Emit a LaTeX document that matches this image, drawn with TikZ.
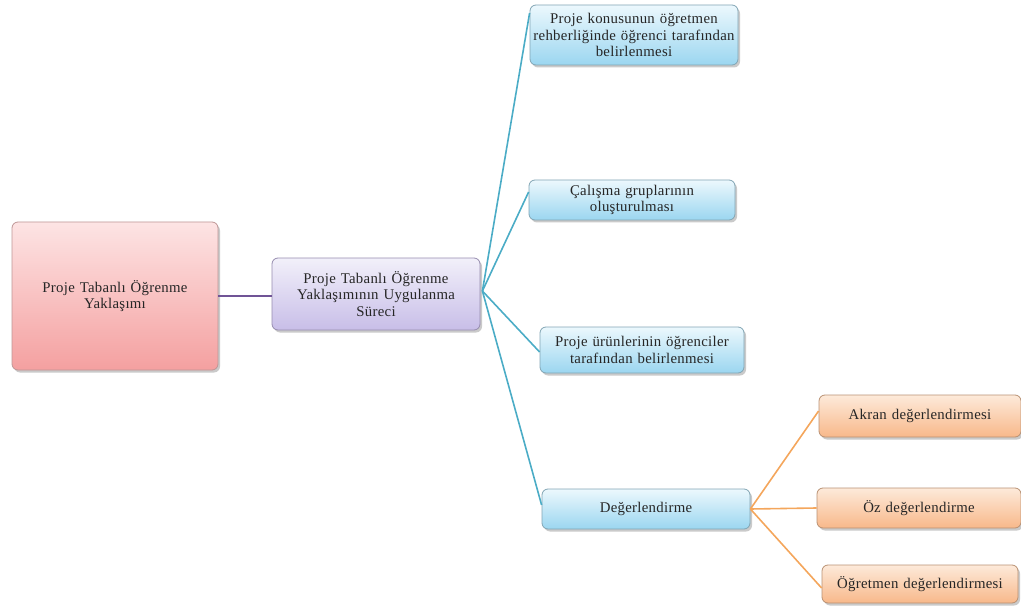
\documentclass[tikz,border=0pt]{standalone}
\usepackage{fontspec}
\setmainfont{Liberation Serif}[LetterSpace=2]
\usetikzlibrary{shadows}
\definecolor{pinktop}{RGB}{253,228,228}
\definecolor{pinkbot}{RGB}{244,160,160}
\definecolor{pinkedge}{RGB}{190,150,150}
\definecolor{lavtop}{RGB}{242,240,250}
\definecolor{lavbot}{RGB}{200,190,232}
\definecolor{lavedge}{RGB}{150,140,175}
\definecolor{bluetop}{RGB}{236,248,253}
\definecolor{bluebot}{RGB}{155,214,240}
\definecolor{blueedge}{RGB}{130,165,180}
\definecolor{orgtop}{RGB}{253,234,218}
\definecolor{orgbot}{RGB}{248,184,138}
\definecolor{orgedge}{RGB}{185,145,115}
\definecolor{tealc}{RGB}{75,172,198}
\definecolor{orgc}{RGB}{244,166,92}
\definecolor{purc}{RGB}{112,84,150}
\begin{document}
\begin{tikzpicture}[x=1pt,y=-1pt,
  box/.style={rounded corners=6pt, line width=0.8pt, align=center, inner sep=2pt,
    font=\fontsize{14.8}{16.5}\selectfont, text=black!85,
    drop shadow={shadow xshift=2pt, shadow yshift=-2.5pt, opacity=0.35, fill=black!60}},
  rootbox/.style={box, draw=pinkedge, top color=pinktop, bottom color=pinkbot},
  midbox/.style={box, draw=lavedge, top color=lavtop, bottom color=lavbot},
  bluebox/.style={box, draw=blueedge, top color=bluetop, bottom color=bluebot},
  orangebox/.style={box, draw=orgedge, top color=orgtop, bottom color=orgbot},
  tealline/.style={draw=tealc, line width=1.6pt},
  orangeline/.style={draw=orgc, line width=1.6pt},
  purpleline/.style={draw=purc, line width=1.6pt}]
\useasboundingbox (0,0) rectangle (1021,607);

% root and process nodes
\node[rootbox, minimum width=206pt, minimum height=148pt, text width=190pt] (root) at (115,296)
  {Proje Tabanlı Öğrenme\\Yaklaşımı};
\node[midbox, minimum width=208pt, minimum height=72pt, text width=204pt] (mid) at (376,294)
  {Proje Tabanlı Öğrenme\\Yaklaşımının Uygulanma\\Süreci};

% steps of the process
\node[bluebox, minimum width=208pt, minimum height=60pt, text width=208pt, inner sep=0pt] (b1) at (634,35)
  {Proje konusunun öğretmen\\rehberliğinde öğrenci tarafından\\belirlenmesi};
\node[bluebox, minimum width=206pt, minimum height=40pt, text width=200pt] (b2) at (632,200)
  {Çalışma gruplarının\\oluşturulması};
\node[bluebox, minimum width=204pt, minimum height=46pt, text width=200pt] (b3) at (642,350)
  {Proje ürünlerinin öğrenciler\\tarafından belirlenmesi};
\node[bluebox, minimum width=208pt, minimum height=40pt, text width=200pt] (b4) at (646,509)
  {Değerlendirme};

% kinds of assessment
\node[orangebox, minimum width=202pt, minimum height=42pt, text width=196pt] (o1) at (920,416)
  {Akran değerlendirmesi};
\node[orangebox, minimum width=204pt, minimum height=40pt, text width=196pt] (o2) at (919,508)
  {Öz değerlendirme};
\node[orangebox, minimum width=196pt, minimum height=38pt, text width=192pt] (o3) at (920,584)
  {Öğretmen değerlendirmesi};

% connectors
\coordinate (fan) at ([xshift=2pt,yshift=3pt]mid.east);
\draw[purpleline] (root.east) -- (root.east -| mid.west);
\draw[tealline] (fan) -- ([yshift=22pt]b1.west);
\draw[tealline] (fan) -- ([yshift=8pt]b2.west);
\draw[tealline] (fan) -- ([yshift=-2pt]b3.west);
\draw[tealline] (fan) -- ([yshift=4pt]b4.west);
\draw[orangeline] (b4.east) -- ([yshift=5pt]o1.west);
\draw[orangeline] (b4.east) -- (o2.west);
\draw[orangeline] (b4.east) -- ([yshift=-4pt]o3.west);
\end{tikzpicture}
\end{document}
